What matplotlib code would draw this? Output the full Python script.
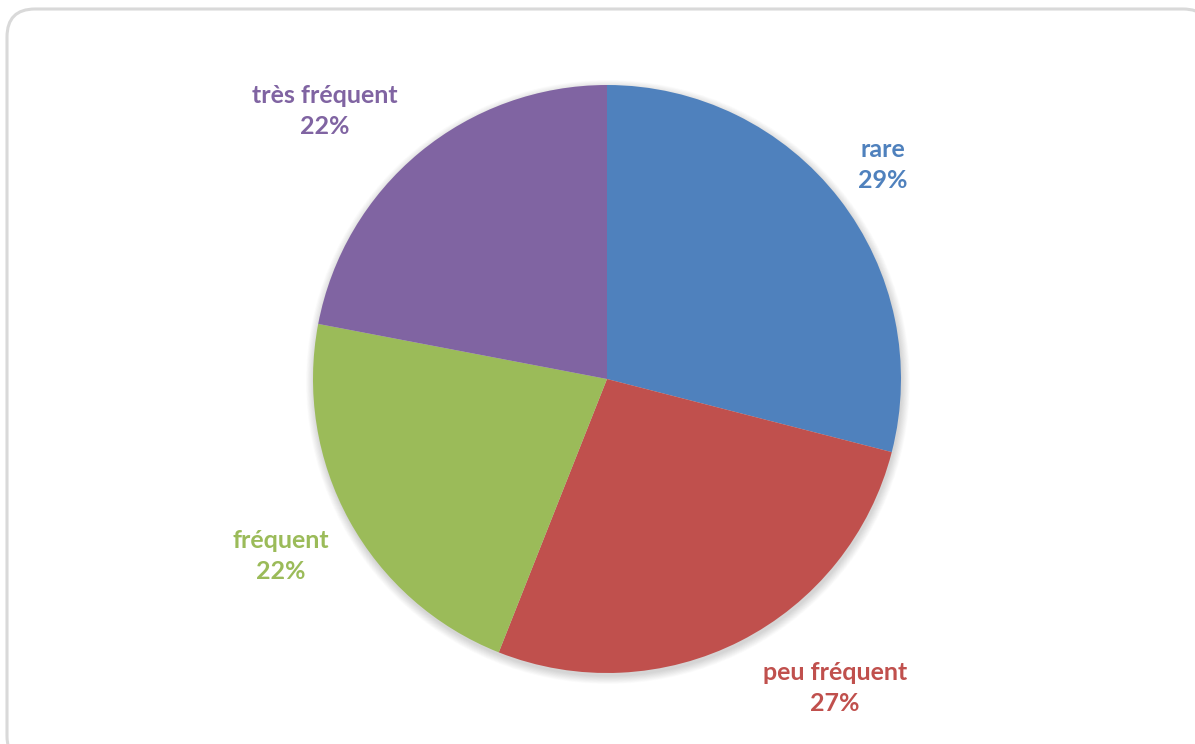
import matplotlib
matplotlib.use("Agg")
import matplotlib.pyplot as plt
from matplotlib.patches import FancyBboxPatch, Circle

categories = ["rare", "peu fréquent", "fréquent", "très fréquent"]
shares = [29, 27, 22, 22]
colors = ["#4F81BD", "#C0504D", "#9BBB59", "#8064A2"]

W, H = 1195, 744
fig = plt.figure(figsize=(W / 100, H / 100), dpi=100)
fig.patch.set_facecolor("white")
ax = fig.add_axes([0, 0, 1, 1])

# rounded chart-area frame (runs off the right and bottom edges)
frame = FancyBboxPatch((7, -20), 1204, 755,
                       boxstyle="round,pad=0,rounding_size=28",
                       facecolor="white", edgecolor="#D9D9D9", linewidth=2.2,
                       zorder=0)
ax.add_patch(frame)

cx, cy, r = 607, H - 379, 294

# soft drop shadow around the pie
for i in range(14):
    ax.add_patch(Circle((cx + 1, cy - 3), r + 8 - i * 0.6,
                        facecolor="black", edgecolor="none",
                        alpha=0.012, zorder=1))

wedges, _ = ax.pie(shares, colors=colors, startangle=90, counterclock=False,
                   center=(cx, cy), radius=r,
                   wedgeprops=dict(linewidth=0, zorder=2))
for w in wedges:
    w.set_zorder(2)

label_pos = [(883, 165), (835, 688), (281, 556), (325, 111)]
for name, val, col, (x, y) in zip(categories, shares, colors, label_pos):
    ax.text(x, H - y, f"{name}\n{val}%", ha="center", va="center",
            color=col, fontsize=18, fontweight="bold", family="Lato",
            linespacing=1.38, zorder=3)

ax.set_xlim(0, W)
ax.set_ylim(0, H)
ax.set_aspect("equal")
ax.axis("off")

fig.savefig("out.png", dpi=100, facecolor="white")
